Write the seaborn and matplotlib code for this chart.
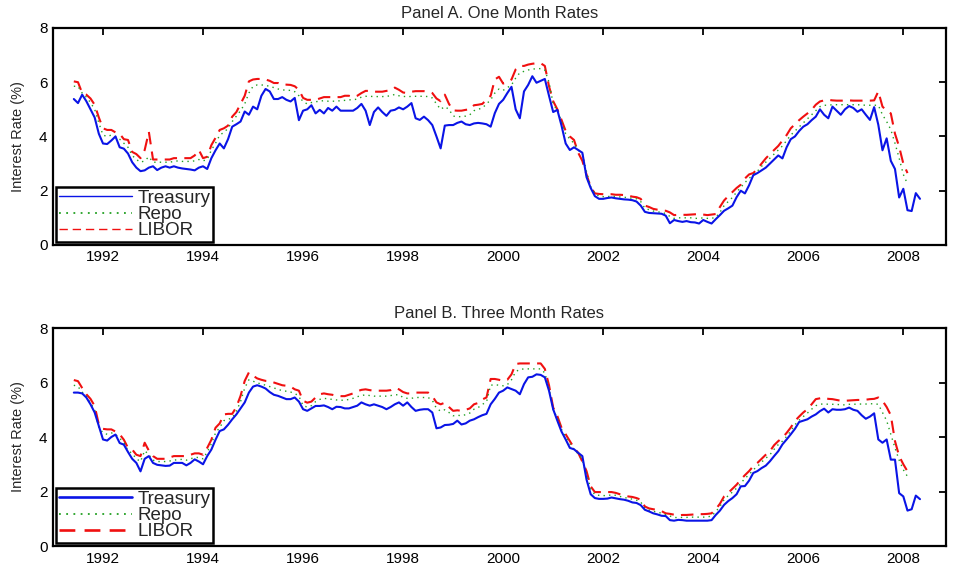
import numpy as np
import pandas as pd
import matplotlib
matplotlib.use("Agg")
import matplotlib.pyplot as plt
from matplotlib.lines import Line2D
import seaborn as sns

# Monthly observations, June 1991 onward
tsy_1m = [
    5.38, 5.23, 5.54, 5.30, 5.00, 4.70, 4.10,
    3.74, 3.72, 3.85, 4.00, 3.60, 3.55, 3.37, 3.05, 2.85, 2.72, 2.75, 2.85,
    2.90, 2.76, 2.85, 2.90, 2.85, 2.90, 2.85, 2.82, 2.80, 2.78, 2.75, 2.85,
    2.90, 2.80, 3.20, 3.49, 3.74, 3.56, 3.90, 4.36, 4.45, 4.55, 4.92, 4.80,
    5.10, 5.00, 5.50, 5.75, 5.66, 5.38, 5.38, 5.45, 5.35, 5.29, 5.42, 4.60,
    4.95, 5.00, 5.15, 4.85, 4.98, 4.85, 5.05, 4.95, 5.10, 4.95, 4.95, 4.95,
    4.95, 5.05, 5.20, 4.95, 4.42, 4.90, 5.07, 4.90, 4.76, 4.95, 4.98, 5.07,
    5.00, 5.10, 5.23, 4.67, 4.61, 4.73, 4.60, 4.42, 4.00, 3.56, 4.40, 4.42,
    4.42, 4.50, 4.55, 4.45, 4.42, 4.48, 4.50, 4.48, 4.45, 4.36, 4.86, 5.20,
    5.35, 5.60, 5.83, 5.00, 4.67, 5.66, 5.90, 6.22, 5.98, 6.05, 6.12, 5.50,
    4.90, 4.98, 4.40, 3.74, 3.50, 3.60, 3.50, 3.40, 2.50, 2.10, 1.80, 1.70,
    1.70, 1.73, 1.75, 1.72, 1.70, 1.68, 1.67, 1.65, 1.60, 1.45, 1.22, 1.18,
    1.17, 1.16, 1.15, 1.08, 0.80, 0.92, 0.88, 0.85, 0.88, 0.84, 0.83, 0.79,
    0.92, 0.85, 0.79, 0.95, 1.10, 1.26, 1.35, 1.45, 1.76, 2.00, 1.90, 2.20,
    2.57, 2.65, 2.75, 2.85, 3.00, 3.15, 3.30, 3.19, 3.60, 3.90, 4.00, 4.20,
    4.36, 4.45, 4.60, 4.73, 5.00, 4.80, 4.67, 5.10, 4.95, 4.80, 5.00, 5.12,
    5.05, 4.91, 5.00, 4.80, 4.61, 5.08, 4.43, 3.49, 3.93, 3.10, 2.80, 1.75,
    2.07, 1.28, 1.25, 1.91, 1.70,
]

repo_1m = [
    5.85, 5.85, 5.60, 5.45, 5.25, 5.00, 4.50,
    4.05, 4.00, 4.05, 4.00, 3.90, 3.75, 3.60, 3.30, 3.15, 3.05, 3.10, 3.25,
    3.05, 3.05, 3.05, 3.05, 3.05, 3.08, 3.10, 3.08, 3.08, 3.08, 3.10, 3.15,
    3.10, 3.15, 3.50, 3.75, 4.05, 4.15, 4.30, 4.55, 4.75, 4.95, 5.20, 5.60,
    5.85, 5.90, 5.90, 5.88, 5.85, 5.80, 5.75, 5.72, 5.70, 5.70, 5.65, 5.50,
    5.28, 5.20, 5.25, 5.28, 5.30, 5.32, 5.30, 5.30, 5.30, 5.32, 5.33, 5.35,
    5.35, 5.38, 5.45, 5.48, 5.48, 5.47, 5.47, 5.47, 5.48, 5.50, 5.55, 5.50,
    5.48, 5.46, 5.48, 5.48, 5.48, 5.48, 5.47, 5.42, 5.20, 5.00, 5.10, 5.00,
    4.75, 4.73, 4.73, 4.75, 4.80, 4.95, 5.00, 5.05, 5.20, 5.35, 5.60, 5.75,
    5.70, 5.80, 5.90, 6.15, 6.35, 6.40, 6.45, 6.48, 6.50, 6.50, 6.45, 6.00,
    5.20, 4.95, 4.55, 4.10, 3.90, 3.75, 3.50, 3.35, 2.70, 2.15, 1.90, 1.80,
    1.78, 1.78, 1.80, 1.78, 1.77, 1.76, 1.74, 1.72, 1.70, 1.60, 1.35, 1.30,
    1.25, 1.22, 1.20, 1.16, 1.05, 0.98, 1.00, 1.00, 1.00, 1.00, 0.98, 0.98,
    1.00, 0.98, 0.98, 1.02, 1.20, 1.45, 1.60, 1.75, 1.95, 2.12, 2.30, 2.45,
    2.60, 2.72, 2.90, 3.05, 3.20, 3.35, 3.50, 3.65, 3.85, 4.05, 4.20, 4.35,
    4.50, 4.65, 4.80, 4.95, 5.10, 5.15, 5.15, 5.17, 5.17, 5.17, 5.17, 5.17,
    5.17, 5.17, 5.16, 5.15, 5.15, 5.15, 5.15, 4.80, 4.55, 4.25, 3.75, 3.20,
    2.60, 2.25,
]

libor_1m = [
    6.03, 6.00, 5.60, 5.54, 5.40, 5.17, 4.70,
    4.30, 4.24, 4.24, 4.15, 4.10, 3.90, 3.87, 3.43, 3.35, 3.20, 3.50, 4.17,
    3.15, 3.15, 3.15, 3.15, 3.15, 3.20, 3.20, 3.20, 3.20, 3.20, 3.30, 3.50,
    3.20, 3.25, 3.68, 3.95, 4.24, 4.30, 4.40, 4.73, 4.90, 5.20, 5.50, 6.03,
    6.10, 6.12, 6.12, 6.10, 6.05, 5.97, 5.97, 5.90, 5.91, 5.90, 5.85, 5.72,
    5.42, 5.35, 5.35, 5.35, 5.40, 5.45, 5.45, 5.45, 5.45, 5.45, 5.50, 5.50,
    5.45, 5.50, 5.60, 5.68, 5.68, 5.65, 5.65, 5.65, 5.68, 5.70, 5.80, 5.72,
    5.62, 5.60, 5.65, 5.67, 5.67, 5.67, 5.65, 5.60, 5.40, 5.30, 5.54, 5.20,
    4.96, 4.95, 4.95, 4.98, 5.00, 5.15, 5.17, 5.20, 5.35, 5.50, 6.10, 6.20,
    5.95, 6.00, 6.10, 6.47, 6.60, 6.60, 6.65, 6.68, 6.70, 6.70, 6.60, 5.85,
    5.30, 5.00, 4.61, 4.20, 4.00, 3.87, 3.40, 3.10, 2.60, 2.13, 1.90, 1.88,
    1.87, 1.86, 1.87, 1.85, 1.85, 1.84, 1.82, 1.78, 1.76, 1.70, 1.45, 1.40,
    1.33, 1.30, 1.28, 1.26, 1.20, 1.10, 1.11, 1.11, 1.11, 1.12, 1.13, 1.14,
    1.12, 1.10, 1.12, 1.14, 1.40, 1.64, 1.80, 1.95, 2.10, 2.22, 2.45, 2.60,
    2.65, 2.80, 3.00, 3.19, 3.35, 3.50, 3.65, 3.85, 4.05, 4.30, 4.45, 4.60,
    4.73, 4.85, 4.98, 5.17, 5.29, 5.33, 5.35, 5.33, 5.32, 5.32, 5.32, 5.33,
    5.32, 5.32, 5.32, 5.32, 5.32, 5.33, 5.66, 5.10, 4.95, 4.85, 4.10, 3.62,
    3.00, 2.65,
]

tsy_3m = [
    5.63, 5.63, 5.60, 5.45, 5.20, 4.90, 4.40,
    3.91, 3.87, 4.00, 4.09, 3.78, 3.72, 3.45, 3.20, 3.05, 2.74, 3.20, 3.30,
    3.05, 2.98, 2.96, 2.94, 2.95, 3.05, 3.05, 3.05, 2.96, 3.05, 3.18, 3.10,
    3.00, 3.30, 3.54, 3.90, 4.22, 4.28, 4.45, 4.65, 4.83, 5.05, 5.27, 5.63,
    5.85, 5.90, 5.85, 5.78, 5.65, 5.55, 5.51, 5.45, 5.39, 5.39, 5.45, 5.30,
    5.02, 4.96, 5.05, 5.14, 5.14, 5.16, 5.10, 5.02, 5.11, 5.10, 5.05, 5.05,
    5.10, 5.15, 5.27, 5.20, 5.15, 5.20, 5.15, 5.10, 5.02, 5.10, 5.20, 5.27,
    5.15, 5.27, 5.10, 4.96, 5.00, 5.02, 5.02, 4.90, 4.32, 4.35, 4.44, 4.45,
    4.48, 4.60, 4.46, 4.50, 4.60, 4.65, 4.73, 4.80, 4.85, 5.20, 5.40, 5.63,
    5.70, 5.82, 5.76, 5.70, 5.57, 5.94, 6.19, 6.21, 6.30, 6.28, 6.19, 5.70,
    5.02, 4.60, 4.20, 3.91, 3.60, 3.55, 3.42, 3.30, 2.44, 1.90, 1.76, 1.73,
    1.73, 1.74, 1.78, 1.75, 1.72, 1.70, 1.66, 1.60, 1.58, 1.50, 1.33, 1.27,
    1.20, 1.16, 1.11, 1.10, 0.95, 0.93, 0.96, 0.95, 0.93, 0.93, 0.93, 0.93,
    0.93, 0.93, 0.95, 1.14, 1.30, 1.51, 1.65, 1.76, 1.90, 2.19, 2.20, 2.40,
    2.68, 2.75, 2.86, 2.95, 3.11, 3.30, 3.48, 3.73, 3.91, 4.10, 4.30, 4.55,
    4.60, 4.65, 4.75, 4.83, 4.95, 5.04, 4.90, 5.02, 5.00, 5.00, 5.02, 5.08,
    5.00, 4.96, 4.80, 4.67, 4.75, 4.87, 3.91, 3.79, 3.91, 3.17, 3.17, 1.94,
    1.82, 1.30, 1.35, 1.85, 1.72,
]

repo_3m = [
    5.90, 5.85, 5.65, 5.50, 5.25, 5.00, 4.35,
    4.15, 4.10, 4.15, 4.10, 3.95, 3.80, 3.50, 3.40, 3.20, 3.10, 3.50, 3.35,
    3.15, 3.10, 3.10, 3.10, 3.12, 3.15, 3.17, 3.18, 3.15, 3.20, 3.25, 3.25,
    3.20, 3.45, 3.75, 4.15, 4.35, 4.60, 4.65, 4.70, 4.95, 5.30, 5.80, 6.10,
    6.05, 5.98, 5.95, 5.90, 5.85, 5.80, 5.75, 5.70, 5.68, 5.65, 5.60, 5.50,
    5.15, 5.10, 5.15, 5.30, 5.38, 5.42, 5.40, 5.38, 5.36, 5.35, 5.35, 5.38,
    5.42, 5.48, 5.52, 5.55, 5.52, 5.50, 5.50, 5.50, 5.50, 5.52, 5.55, 5.55,
    5.45, 5.42, 5.42, 5.45, 5.45, 5.45, 5.45, 5.35, 5.05, 4.95, 5.00, 4.90,
    4.78, 4.80, 4.78, 4.82, 4.88, 5.02, 5.08, 5.20, 5.28, 5.90, 5.92, 5.90,
    5.88, 5.92, 6.10, 6.40, 6.48, 6.50, 6.50, 6.50, 6.50, 6.50, 6.35, 5.80,
    5.00, 4.70, 4.28, 4.00, 3.75, 3.55, 3.38, 3.15, 2.65, 2.10, 1.88, 1.86,
    1.85, 1.85, 1.88, 1.86, 1.82, 1.78, 1.75, 1.72, 1.68, 1.62, 1.38, 1.32,
    1.27, 1.25, 1.20, 1.15, 1.10, 1.05, 1.04, 1.05, 1.05, 1.06, 1.06, 1.06,
    1.06, 1.07, 1.10, 1.26, 1.45, 1.70, 1.85, 1.98, 2.12, 2.30, 2.48, 2.62,
    2.80, 2.92, 3.08, 3.22, 3.35, 3.55, 3.72, 3.85, 4.02, 4.22, 4.45, 4.62,
    4.75, 4.88, 5.02, 5.15, 5.20, 5.22, 5.20, 5.20, 5.20, 5.18, 5.18, 5.20,
    5.20, 5.21, 5.21, 5.21, 5.22, 5.22, 5.20, 4.90, 4.60, 4.10, 3.60, 3.15,
    2.80, 2.55,
]

libor_3m = [
    6.09, 6.05, 5.80, 5.57, 5.40, 5.14, 4.46,
    4.30, 4.28, 4.28, 4.20, 4.10, 3.90, 3.60, 3.54, 3.35, 3.30, 3.79, 3.50,
    3.30, 3.20, 3.20, 3.20, 3.25, 3.30, 3.30, 3.30, 3.30, 3.35, 3.40, 3.40,
    3.35, 3.60, 3.90, 4.34, 4.50, 4.83, 4.85, 4.85, 5.10, 5.51, 6.06, 6.37,
    6.25, 6.15, 6.10, 6.06, 6.05, 6.00, 5.95, 5.90, 5.88, 5.85, 5.75, 5.70,
    5.33, 5.26, 5.30, 5.45, 5.57, 5.60, 5.57, 5.55, 5.51, 5.50, 5.50, 5.55,
    5.60, 5.68, 5.73, 5.75, 5.72, 5.70, 5.70, 5.70, 5.70, 5.72, 5.80, 5.75,
    5.65, 5.60, 5.60, 5.63, 5.63, 5.63, 5.63, 5.50, 5.27, 5.20, 5.26, 5.10,
    4.96, 4.98, 4.96, 5.00, 5.05, 5.20, 5.25, 5.38, 5.45, 6.13, 6.13, 6.10,
    6.06, 6.10, 6.30, 6.68, 6.70, 6.70, 6.70, 6.70, 6.70, 6.70, 6.50, 5.90,
    5.08, 4.77, 4.34, 4.10, 3.85, 3.60, 3.42, 3.10, 2.75, 2.19, 1.98, 1.98,
    1.98, 1.98, 1.98, 1.95, 1.90, 1.85, 1.82, 1.80, 1.76, 1.70, 1.45, 1.38,
    1.35, 1.32, 1.28, 1.20, 1.18, 1.15, 1.12, 1.14, 1.14, 1.15, 1.16, 1.17,
    1.17, 1.18, 1.20, 1.35, 1.55, 1.82, 1.95, 2.10, 2.25, 2.44, 2.60, 2.75,
    2.93, 3.05, 3.20, 3.35, 3.48, 3.70, 3.85, 3.97, 4.15, 4.35, 4.59, 4.75,
    4.90, 5.02, 5.20, 5.39, 5.42, 5.45, 5.40, 5.39, 5.36, 5.33, 5.33, 5.34,
    5.35, 5.36, 5.36, 5.37, 5.39, 5.40, 5.45, 5.33, 5.10, 4.80, 3.85, 3.30,
    3.00, 2.74,
]

series_names = ["Treasury", "Repo", "LIBOR"]
panel_titles = ["Panel A. One Month Rates", "Panel B. Three Month Rates"]
year_ticks = list(range(1992, 2009, 2))
rate_ticks = [0, 2, 4, 6, 8]

months = pd.date_range("1991-06-01", periods=len(tsy_1m), freq="MS")
decimal_years = (months.year + (months.month - 1) / 12.0).to_numpy()

sns.set_style("white")
plt.rcParams["font.family"] = ["Liberation Sans", "DejaVu Sans"]

styles = {
    "Treasury": dict(color="#0a14e6", ls="-", lw=1.5),
    "Repo": dict(color="#22a022", ls=(0, (1, 3)), lw=1.0),
    "LIBOR": dict(color="#f01010", ls=(0, (6, 3.5)), lw=1.5),
}

fig = plt.figure(figsize=(9.58, 5.67), dpi=100)
ax_a = fig.add_axes([0.0553, 0.568, 0.932, 0.3827])
ax_b = fig.add_axes([0.0553, 0.037, 0.932, 0.3845])

panels = [
    (ax_a, {"Treasury": tsy_1m, "Repo": repo_1m, "LIBOR": libor_1m}, 1.0),
    (ax_b, {"Treasury": tsy_3m, "Repo": repo_3m, "LIBOR": libor_3m}, 1.9),
]

for (ax, data, legend_lw), title in zip(panels, panel_titles):
    for name in ["LIBOR", "Repo", "Treasury"]:
        vals = data[name]
        st = styles[name]
        sns.lineplot(x=decimal_years[:len(vals)], y=vals, ax=ax,
                     color=st["color"], linewidth=st["lw"], legend=False)
        ax.lines[-1].set_linestyle(st["ls"])

    ax.set_xlim(1991.0, 2008.85)
    ax.set_ylim(0, 8)
    ax.set_xticks(year_ticks)
    ax.set_xticklabels([str(y) for y in year_ticks])
    ax.set_yticks(rate_ticks)
    ax.tick_params(direction="in", length=5, width=1.3, top=True, right=True,
                   labelsize=11, pad=4, colors="black")
    for sp in ax.spines.values():
        sp.set_visible(True)
        sp.set_color("black")
        sp.set_linewidth(1.6)
    ax.set_title(title, fontsize=12, pad=7)
    ax.set_ylabel("Interest Rate (%)", fontsize=10.5, labelpad=10)

    handles = []
    for name in series_names:
        st = styles[name]
        lw = legend_lw if name != "Repo" else 1.3
        handles.append(Line2D([], [], color=st["color"], linewidth=lw,
                              linestyle=st["ls"]))
    leg = ax.legend(handles, series_names, loc="lower left", fontsize=13.5,
                    handlelength=3.9, handletextpad=0.3, labelspacing=-0.05,
                    borderpad=0.15, borderaxespad=0.15, frameon=True,
                    fancybox=False, framealpha=1.0)
    leg.get_frame().set_edgecolor("black")
    leg.get_frame().set_linewidth(1.8)

fig.savefig("out.png", dpi=100, facecolor="white")
